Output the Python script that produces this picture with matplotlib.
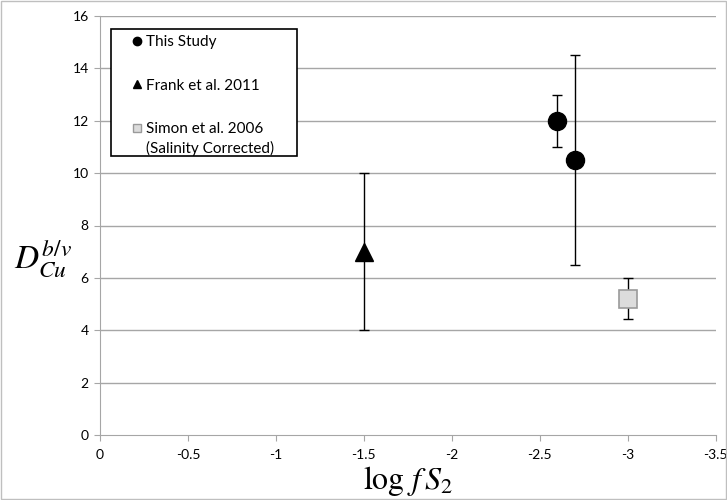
import matplotlib
matplotlib.use("Agg")
import matplotlib.pyplot as plt
from matplotlib.lines import Line2D
from matplotlib.patches import Rectangle

plt.rcParams['font.family'] = ['Lato', 'DejaVu Sans']
plt.rcParams['mathtext.fontset'] = 'stix'

# data
study_x = [-2.6, -2.7]
study_y = [12.0, 10.5]
study_lo = [11.0, 6.5]
study_hi = [13.0, 14.5]

frank_x = [-1.5]
frank_y = [7.0]
frank_lo = [4.0]
frank_hi = [10.0]

simon_x = [-3.0]
simon_y = [5.18]
simon_lo = [4.43]
simon_hi = [6.0]

labels = ["This Study", "Frank et al. 2011", "Simon et al. 2006"]
simon_note = "(Salinity Corrected)"
xticks = [0, -0.5, -1, -1.5, -2, -2.5, -3, -3.5]
xticklabels = ["0", "-0.5", "-1", "-1.5", "-2", "-2.5", "-3", "-3.5"]
yticks = [0, 2, 4, 6, 8, 10, 12, 14, 16]

fig = plt.figure(figsize=(7.27, 5.0), dpi=100)
ax = fig.add_axes([0.1375, 0.13, 0.847, 0.838])

grid_c = "#a6a6a6"
for yv in yticks[1:]:
    ax.axhline(yv, color=grid_c, lw=1.0, zorder=0)


def errs(y, lo, hi):
    return [[a - b for a, b in zip(y, lo)], [b - a for a, b in zip(y, hi)]]


ax.errorbar(frank_x, frank_y, yerr=errs(frank_y, frank_lo, frank_hi), fmt='none',
            ecolor='black', elinewidth=1.0, capsize=3.5, capthick=1.0, zorder=2)
ax.plot(frank_x, frank_y, marker='^', ms=13, color='black', ls='none', zorder=3)

ax.errorbar(study_x, study_y, yerr=errs(study_y, study_lo, study_hi), fmt='none',
            ecolor='black', elinewidth=1.0, capsize=3.5, capthick=1.0, zorder=2)
ax.plot(study_x, study_y, marker='o', ms=13, color='black', ls='none', zorder=3)

ax.errorbar(simon_x, simon_y, yerr=errs(simon_y, simon_lo, simon_hi), fmt='none',
            ecolor='black', elinewidth=1.0, capsize=3.5, capthick=1.0, zorder=2)
ax.plot(simon_x, simon_y, marker='s', ms=13, mfc='#dcdcdc', mec='#9a9a9a', mew=1.2,
        ls='none', zorder=3)

ax.set_xlim(0, -3.5)
ax.set_ylim(0, 16)
ax.set_xticks(xticks)
ax.set_xticklabels(xticklabels)
ax.set_yticks(yticks)
ax.tick_params(axis='x', length=4, color=grid_c, labelsize=10, pad=6)
ax.tick_params(axis='y', length=4, color=grid_c, labelsize=10, pad=4)
for s in ['top', 'right']:
    ax.spines[s].set_visible(False)
for s in ['left', 'bottom']:
    ax.spines[s].set_color(grid_c)

ax.set_xlabel(r"$\log\, f\, S_2$", fontsize=23, labelpad=2)
ax.set_ylabel(r"$D_{Cu}^{b/v}$", fontsize=24, rotation=0, va='center', ha='center')
ax.yaxis.set_label_coords(-0.093, 0.42)

# legend box (Excel style, fixed size)
ax.add_patch(Rectangle((0.0178, 0.666), 0.302, 0.303, transform=ax.transAxes,
                       facecolor='white', edgecolor='black', lw=1.2, zorder=4))

handles = [
    Line2D([], [], marker='o', color='black', ls='none', ms=6),
    Line2D([], [], marker='^', color='black', ls='none', ms=6),
    Line2D([], [], marker='s', mfc='#dcdcdc', mec='#9a9a9a', ls='none', ms=6),
]
leg = ax.legend(handles, labels, loc='upper left', bbox_to_anchor=(0.053, 0.955),
                frameon=False, fontsize=11, handlelength=0.6, handletextpad=0.25,
                labelspacing=1.95, borderpad=0, borderaxespad=0)
leg.set_zorder(5)
ax.annotate(simon_note, xy=(0, 0), xycoords=leg.get_texts()[2], xytext=(0, -3),
            textcoords='offset points', ha='left', va='top', fontsize=11, zorder=6)

fig.patches.append(Rectangle((0.002, 0.002), 0.996, 0.996, transform=fig.transFigure,
                             fill=False, edgecolor='#bfbfbf', lw=1.0))

fig.savefig("out.png", dpi=100)
